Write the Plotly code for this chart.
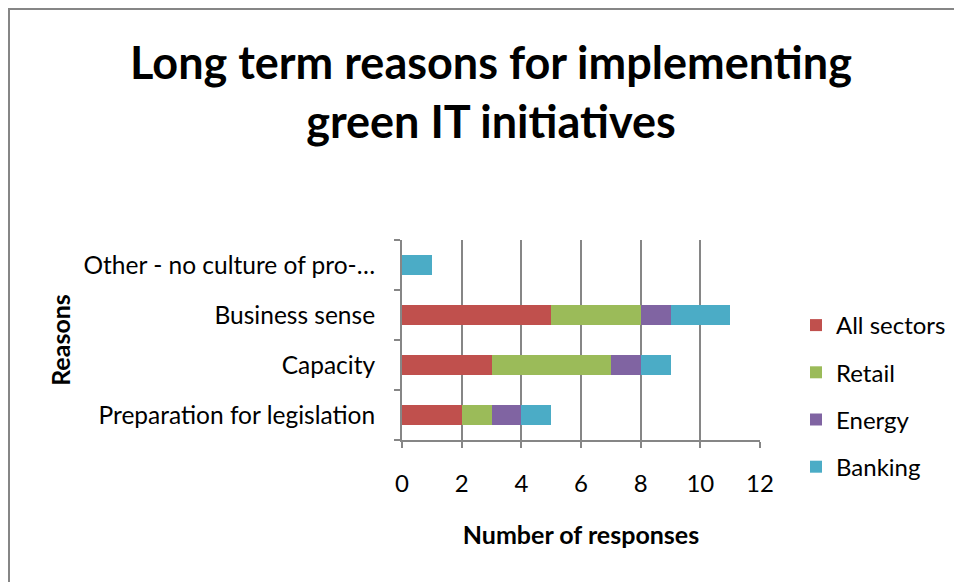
import plotly.graph_objects as go

reasons = ["Preparation for legislation", "Capacity", "Business sense", "Other - no culture of pro-…"]
sectors = ["All sectors", "Retail", "Energy", "Banking"]
colors = ["#C0504D", "#9BBB59", "#8064A2", "#4BACC6"]
values = {
    "All sectors": [2, 3, 5, 0],
    "Retail": [1, 4, 3, 0],
    "Energy": [1, 1, 1, 0],
    "Banking": [1, 1, 2, 1],
}
x_ticks = [0, 2, 4, 6, 8, 10, 12]

FONT = "Lato"
# page body adds an 8px offset, so the figure is drawn from (8, 8)
W, H = 954, 574
L, T = 394, 232
PW, PH = 358, 200
R, B = W - L - PW, H - T - PH

fig = go.Figure()
for s, c in zip(sectors, colors):
    fig.add_trace(go.Bar(
        y=reasons, x=values[s], name=s, orientation="h", legendgroup=s,
        marker=dict(color=c, line=dict(width=0)),
    ))

def px(x):
    return (x - 8 - L) / PW
def py(y):
    return (H - B - (y - 8)) / PH

fig.update_layout(
    width=W, height=H,
    barmode="stack", bargap=0.6,
    plot_bgcolor="white", paper_bgcolor="white",
    margin=dict(l=L, r=R, t=T, b=B, autoexpand=False),
    font=dict(family=FONT, color="black", size=24),
    title=dict(
        text="<b>Long term reasons for implementing<br>green IT initiatives</b>",
        x=(491 - 8) / W, xref="container", xanchor="center", y=1 - 71 / H, yanchor="middle",
        font=dict(size=45),
    ),
    xaxis=dict(
        range=[0, 12], tickvals=x_ticks, showgrid=True, gridcolor="#868686", gridwidth=2,
        showline=True, linecolor="#868686", linewidth=2, ticks="outside", ticklen=6,
        tickcolor="#868686", tickwidth=2, zeroline=False, tickfont=dict(size=24),
        ticklabelstandoff=15,
        title=dict(text="<b>Number of responses</b>", font=dict(size=25), standoff=31),
    ),
    yaxis=dict(
        showline=True, linecolor="#868686", linewidth=2, ticks="outside", ticklen=6,
        tickcolor="#868686", tickwidth=2, tickson="boundaries", showgrid=False,
        tickfont=dict(size=24.5), ticklabelstandoff=20,
        title=dict(text="<b>Reasons</b>", font=dict(size=25), standoff=6),
    ),
    legend=dict(
        x=px(796), y=py(303), xanchor="left", yanchor="top",
        font=dict(size=24), tracegroupgap=13, itemsizing="constant",
        traceorder="grouped",
    ),
    shapes=[dict(
        type="rect", xref="paper", yref="paper",
        x0=px(9), x1=px(1000), y0=py(640), y1=py(9),
        line=dict(color="#868686", width=2), fillcolor="rgba(0,0,0,0)", layer="below",
    )],
)

fig.write_html("out.html")
